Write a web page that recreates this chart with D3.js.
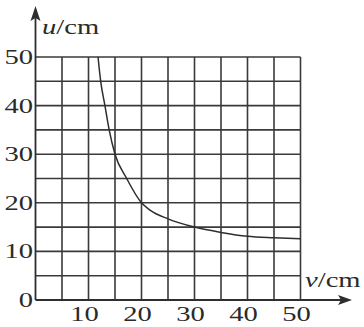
<!DOCTYPE html>
<html>
<head>
<meta charset="utf-8">
<script src="https://cdn.jsdelivr.net/npm/d3@7"></script>
<style>
  body { margin: 0; background: #fff; }
  svg text { font-family: "Times New Roman", "Liberation Serif", Times, serif; fill: #2a2a2a; }
</style>
</head>
<body>
<svg id="chart" width="364" height="327"></svg>
<script>
// values
const vValues = [11.8, 12.3, 13.1, 13.9, 15, 17.2, 20, 21.6, 25, 30, 35, 40, 45, 50];
const uValues = [50, 45, 40, 35, 30, 25, 20, 18.5, 16.7, 15, 13.9, 13.1, 12.8, 12.6];
const gridSteps = [0, 5, 10, 15, 20, 25, 30, 35, 40, 45, 50];
const xTickLabels = [10, 20, 30, 40, 50];
const yTickLabels = [0, 10, 20, 30, 40, 50];

const svg = d3.select('#chart');
const ink = '#2e2e2e';

const x = d3.scaleLinear().domain([0, 50]).range([35.5, 300.5]);
const y = d3.scaleLinear().domain([0, 50]).range([300, 57]);

// grid
const grid = svg.append('g').attr('stroke', '#3a3a3a').attr('stroke-width', 1.6);
grid.selectAll('line.v')
  .data(gridSteps.slice(1))
  .enter()
  .append('line')
  .attr('x1', d => x(d)).attr('x2', d => x(d))
  .attr('y1', y(0)).attr('y2', y(50));
grid.selectAll('line.h')
  .data(gridSteps.slice(1))
  .enter()
  .append('line')
  .attr('x1', x(0)).attr('x2', x(50))
  .attr('y1', d => y(d)).attr('y2', d => y(d));

// axes with arrows
svg.append('line')
  .attr('x1', x(0)).attr('x2', 344)
  .attr('y1', y(0)).attr('y2', y(0))
  .attr('stroke', ink).attr('stroke-width', 1.8);
svg.append('line')
  .attr('x1', x(0)).attr('x2', x(0))
  .attr('y1', y(0)).attr('y2', 16)
  .attr('stroke', ink).attr('stroke-width', 1.8);
svg.append('path')
  .attr('d', `M352,${y(0)} L338,${y(0) - 5} L341,${y(0)} L338,${y(0) + 5} Z`)
  .attr('fill', ink);
svg.append('path')
  .attr('d', `M${x(0)},6 L${x(0) - 5},21 L${x(0)},18 L${x(0) + 5},21 Z`)
  .attr('fill', ink);

// curve
const line = d3.line()
  .x((d, i) => x(vValues[i]))
  .y(d => y(d))
  .curve(d3.curveMonotoneX);
svg.append('path')
  .attr('d', line(uValues))
  .attr('fill', 'none')
  .attr('stroke', ink)
  .attr('stroke-width', 1.5);

// stretched serif text helper
function label(px, py, anchor) {
  return svg.append('text')
    .attr('transform', `translate(${px},${py}) scale(1.3,1)`)
    .attr('text-anchor', anchor)
    .attr('font-size', 22);
}

xTickLabels.forEach(d => label(x(d) - 4, 321, 'middle').text(d));
yTickLabels.forEach(d => label(33, y(d) + 7, 'end').text(d));

const uLab = label(42, 34, 'start');
uLab.append('tspan').attr('font-style', 'italic').text('u');
uLab.append('tspan').text('/cm');

const vLab = label(305, 287, 'start');
vLab.append('tspan').attr('font-style', 'italic').text('v');
vLab.append('tspan').text('/cm');
</script>
</body>
</html>
